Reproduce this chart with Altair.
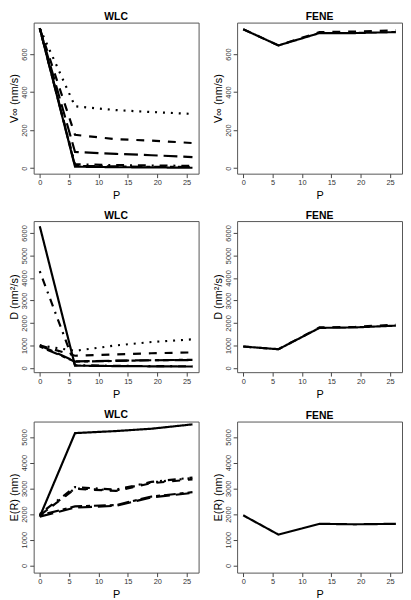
import altair as alt
import pandas as pd

# ---------------- data ----------------
P = [0, 6, 13, 19, 26]
LINE_TYPES = ["solid", "dashed", "dotted", "dotdash", "longdash", "twodash"]
DASHES = [[1, 0], [8, 8], [2, 6], [2, 6, 8, 6], [14, 6], [4, 4, 12, 4]]

# WLC, V_inf (nm/s)
wlc_v_solid = [735, 8, 5, 4, 2]
wlc_v_dashed = [735, 175, 152, 145, 132]
wlc_v_dotted = [735, 325, 305, 295, 285]
wlc_v_dotdash = [735, 20, 16, 14, 12]
wlc_v_longdash = [735, 85, 75, 68, 58]
wlc_v_twodash = [735, 12, 9, 7, 6]

# FENE, V_inf (nm/s)
fene_v_solid = [730, 645, 710, 710, 715]
fene_v_dashed = [730, 645, 715, 718, 724]

# WLC, D (nm^2/s)
wlc_d_solid = [6300, 100, 80, 70, 60]
wlc_d_dashed = [1000, 540, 600, 650, 690]
wlc_d_dotted = [1000, 760, 1000, 1150, 1270]
wlc_d_dotdash = [4300, 120, 90, 80, 70]
wlc_d_longdash = [1000, 290, 320, 340, 350]
wlc_d_twodash = [950, 280, 310, 340, 360]

# FENE, D (nm^2/s)
fene_d_solid = [950, 830, 1780, 1800, 1880]
fene_d_dashed = [950, 830, 1800, 1820, 1930]

# WLC, E(R) (nm)
wlc_e_solid = [1900, 5150, 5230, 5320, 5490]
wlc_e_dashed = [1950, 2980, 2900, 3200, 3350]
wlc_e_dotted = [1950, 3000, 2920, 3230, 3400]
wlc_e_dotdash = [2000, 3050, 2950, 3250, 3420]
wlc_e_longdash = [1900, 2250, 2320, 2650, 2820]
wlc_e_twodash = [1950, 2300, 2350, 2680, 2850]

# FENE, E(R) (nm)
fene_e_solid = [1950, 1200, 1620, 1600, 1620]

Y_TICKS_V = [0, 200, 400, 600]
Y_TICKS_D = [0, 1000, 2000, 3000, 4000, 5000, 6000]
Y_TICKS_E = [0, 1000, 2000, 3000, 4000, 5000]
X_TICKS = [0, 5, 10, 15, 20, 25]

FONT = "Liberation Sans"


def frame(series):
    rows = []
    for lty, vals in series.items():
        for p, v in zip(P, vals):
            rows.append({"P": p, "value": v, "lty": lty})
    return pd.DataFrame(rows)


def panel(series, title, ytitle, ydomain, yticks):
    df = frame(series)
    return (
        alt.Chart(df)
        .mark_line(strokeWidth=2.2, color="black")
        .encode(
            x=alt.X(
                "P:Q",
                scale=alt.Scale(domain=[-1.04, 27.04], nice=False, zero=False),
                axis=alt.Axis(values=X_TICKS, title="P", format="d",
                              titlePadding=4),
            ),
            y=alt.Y(
                "value:Q",
                scale=alt.Scale(domain=ydomain, nice=False, zero=False),
                axis=alt.Axis(values=yticks, title=ytitle, labelAngle=270,
                              labelAlign="center", labelBaseline="bottom",
                              format="d", titlePadding=1),
            ),
            strokeDash=alt.StrokeDash(
                "lty:N",
                scale=alt.Scale(domain=LINE_TYPES, range=DASHES),
                legend=None,
            ),
            detail="lty:N",
        )
        .properties(
            width=167,
            height=153,
            title=alt.TitleParams(title, fontSize=10.5, fontWeight="bold",
                                  font=FONT, offset=0, color="black"),
        )
    )


v_dom = [-29, 765]
d_dom = [-190, 6530]
e_dom = [-280, 5600]

row1 = alt.hconcat(
    panel({"solid": wlc_v_solid, "dashed": wlc_v_dashed, "dotted": wlc_v_dotted,
           "dotdash": wlc_v_dotdash, "longdash": wlc_v_longdash,
           "twodash": wlc_v_twodash}, "WLC", "V∞  (nm/s)", v_dom, Y_TICKS_V),
    panel({"solid": fene_v_solid, "dashed": fene_v_dashed},
          "FENE", "V∞  (nm/s)", v_dom, Y_TICKS_V),
    spacing=12,
)
row2 = alt.hconcat(
    panel({"solid": wlc_d_solid, "dashed": wlc_d_dashed, "dotted": wlc_d_dotted,
           "dotdash": wlc_d_dotdash, "longdash": wlc_d_longdash,
           "twodash": wlc_d_twodash}, "WLC", "D  (nm²/s)", d_dom, Y_TICKS_D),
    panel({"solid": fene_d_solid, "dashed": fene_d_dashed},
          "FENE", "D  (nm²/s)", d_dom, Y_TICKS_D),
    spacing=12,
)
row3 = alt.hconcat(
    panel({"solid": wlc_e_solid, "dashed": wlc_e_dashed, "dotted": wlc_e_dotted,
           "dotdash": wlc_e_dotdash, "longdash": wlc_e_longdash,
           "twodash": wlc_e_twodash}, "WLC", "E(R)  (nm)", e_dom, Y_TICKS_E),
    panel({"solid": fene_e_solid}, "FENE", "E(R)  (nm)", e_dom, Y_TICKS_E),
    spacing=12,
)

chart = (
    alt.vconcat(row1, row2, row3, spacing=9)
    .properties(padding=0, background="white")
    .configure_view(stroke="#555", strokeWidth=1)
    .configure_axis(
        domain=False,
        grid=False,
        ticks=True,
        tickSize=4,
        tickColor="#444",
        labelFont=FONT,
        labelFontSize=7.5,
        labelColor="#333",
        labelPadding=1,
        titleFont=FONT,
        titleFontSize=11,
        titleFontWeight="normal",
        titleColor="black",
    )
)

chart.save("out.html", embed_options={"renderer": "svg", "actions": False})
